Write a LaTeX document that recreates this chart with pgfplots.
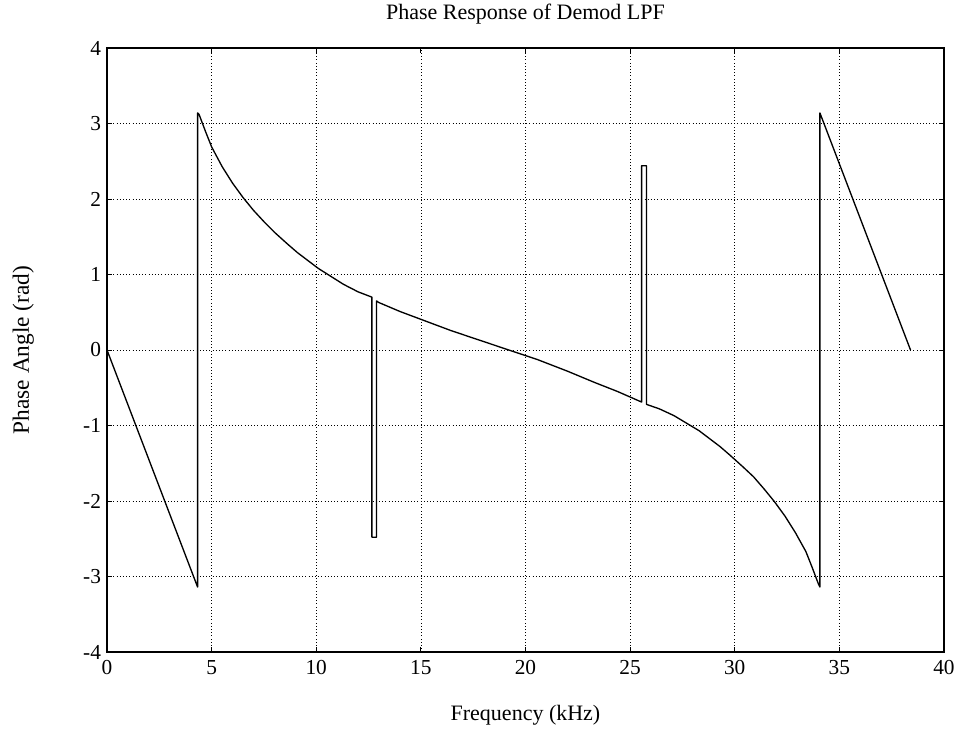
\documentclass[border=0pt]{standalone}
\usepackage{pgfplots}
\pgfplotsset{compat=1.18}
\usepackage{fontspec}
\setmainfont{Liberation Serif}
\begin{document}
\begin{tikzpicture}
\begin{axis}[
  at={(0,0)}, anchor=south west,
  scale only axis,
  width=627.75pt, height=453pt,
  xmin=0, xmax=40, ymin=-4, ymax=4,
  xtick={0,5,...,40}, ytick={-4,-3,...,4},
  tick align=inside,
  major tick length=4pt,
  xmajorgrids, ymajorgrids,
  grid style={black, dotted, line width=0.5pt},
  axis line style={black, line width=0.8pt},
  tick style={black, line width=0.6pt},
  /pgf/number format/assume math mode=true,
  ticklabel style={font=\fontsize{16}{19}\selectfont},
  xticklabel style={yshift=-3pt},
  yticklabel style={xshift=-1pt},
  title={Phase Response of Demod LPF},
  title style={font=\fontsize{16.5}{19}\selectfont, yshift=8pt},
  xlabel={Frequency (kHz)},
  xlabel style={font=\fontsize{16.5}{19}\selectfont, yshift=-16pt},
  ylabel={Phase Angle (rad)},
  ylabel style={font=\fontsize{17.5}{20}\selectfont, yshift=30pt},
]
\addplot[black, line width=1pt, line join=round] coordinates {
(0,0) (4.33,-3.14) (4.33,3.14) (4.40,3.12)
(4.70,2.90) (5.00,2.69) (5.50,2.43) (6.00,2.21) (6.50,2.02) (7.00,1.85) (7.50,1.70)
(8.00,1.56) (8.60,1.41) (9.10,1.29) (10.10,1.08) (11.30,0.87) (12.00,0.77) (12.66,0.70)
(12.66,-2.48) (12.88,-2.48) (12.88,0.65)
(12.98,0.63) (14.00,0.51) (15.06,0.40) (16.41,0.26) (17.80,0.13) (19.20,0.00)
(20.60,-0.13) (22.00,-0.28) (23.30,-0.43) (24.40,-0.55) (25.55,-0.69)
(25.55,2.44) (25.78,2.44) (25.78,-0.72)
(26.40,-0.78) (27.10,-0.87) (28.30,-1.07) (29.30,-1.28) (29.80,-1.40) (30.40,-1.55)
(30.90,-1.68) (31.40,-1.84) (31.90,-2.01) (32.40,-2.20) (32.90,-2.42) (33.40,-2.67)
(33.70,-2.88) (34.00,-3.10) (34.07,-3.14)
(34.07,3.14) (38.40,0.00)
};
\end{axis}
\path (-80.25pt,-67.5pt) rectangle (643.5pt,486.75pt);
\end{tikzpicture}
\end{document}
